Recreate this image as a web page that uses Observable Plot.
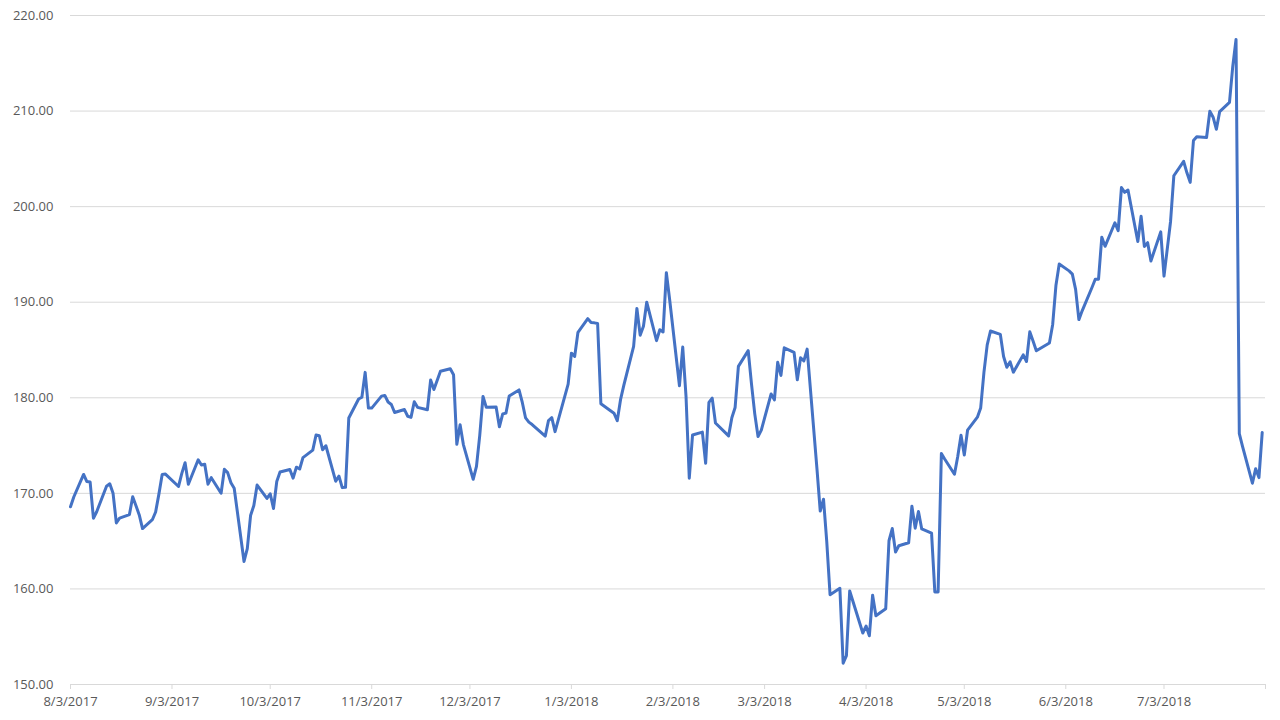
<!DOCTYPE html>
<html><head><meta charset="utf-8">
<script src="https://cdn.jsdelivr.net/npm/d3@7"></script>
<script src="https://cdn.jsdelivr.net/npm/@observablehq/plot@0.6"></script>
<style>body{margin:0;background:#fff;} svg{display:block}</style>
</head><body><div id="chart"></div>
<script>
const dates = [
"2017-08-03","2017-08-04","2017-08-07","2017-08-08","2017-08-09","2017-08-10","2017-08-11","2017-08-14","2017-08-15","2017-08-16","2017-08-17","2017-08-18","2017-08-21","2017-08-22","2017-08-23","2017-08-24","2017-08-25","2017-08-28","2017-08-29","2017-08-30","2017-08-31",
"2017-09-01","2017-09-05","2017-09-06","2017-09-07","2017-09-08","2017-09-11","2017-09-12","2017-09-13","2017-09-14","2017-09-15","2017-09-18","2017-09-19","2017-09-20","2017-09-21","2017-09-22","2017-09-25","2017-09-26","2017-09-27","2017-09-28","2017-09-29",
"2017-10-02","2017-10-03","2017-10-04","2017-10-05","2017-10-06","2017-10-09","2017-10-10","2017-10-11","2017-10-12","2017-10-13","2017-10-16","2017-10-17","2017-10-18","2017-10-19","2017-10-20","2017-10-23","2017-10-24","2017-10-25","2017-10-26","2017-10-27","2017-10-30","2017-10-31",
"2017-11-01","2017-11-02","2017-11-03","2017-11-06","2017-11-07","2017-11-08","2017-11-09","2017-11-10","2017-11-13","2017-11-14","2017-11-15","2017-11-16","2017-11-17","2017-11-20","2017-11-21","2017-11-22","2017-11-24","2017-11-27","2017-11-28","2017-11-29","2017-11-30",
"2017-12-01","2017-12-04","2017-12-05","2017-12-06","2017-12-07","2017-12-08","2017-12-11","2017-12-12","2017-12-13","2017-12-14","2017-12-15","2017-12-18","2017-12-19","2017-12-20","2017-12-21","2017-12-22","2017-12-26","2017-12-27","2017-12-28","2017-12-29",
"2018-01-02","2018-01-03","2018-01-04","2018-01-05","2018-01-08","2018-01-09","2018-01-10","2018-01-11","2018-01-12","2018-01-16","2018-01-17","2018-01-18","2018-01-19","2018-01-22","2018-01-23","2018-01-24","2018-01-25","2018-01-26","2018-01-29","2018-01-30","2018-01-31",
"2018-02-01","2018-02-02","2018-02-05","2018-02-06","2018-02-07","2018-02-08","2018-02-09","2018-02-12","2018-02-13","2018-02-14","2018-02-15","2018-02-16","2018-02-20","2018-02-21","2018-02-22","2018-02-23","2018-02-26","2018-02-27","2018-02-28",
"2018-03-01","2018-03-02","2018-03-05","2018-03-06","2018-03-07","2018-03-08","2018-03-09","2018-03-12","2018-03-13","2018-03-14","2018-03-15","2018-03-16","2018-03-19","2018-03-20","2018-03-21","2018-03-22","2018-03-23","2018-03-26","2018-03-27","2018-03-28","2018-03-29",
"2018-04-02","2018-04-03","2018-04-04","2018-04-05","2018-04-06","2018-04-09","2018-04-10","2018-04-11","2018-04-12","2018-04-13","2018-04-16","2018-04-17","2018-04-18","2018-04-19","2018-04-20","2018-04-23","2018-04-24","2018-04-25","2018-04-26","2018-04-27","2018-04-30",
"2018-05-01","2018-05-02","2018-05-03","2018-05-04","2018-05-07","2018-05-08","2018-05-09","2018-05-10","2018-05-11","2018-05-14","2018-05-15","2018-05-16","2018-05-17","2018-05-18","2018-05-21","2018-05-22","2018-05-23","2018-05-24","2018-05-25","2018-05-29","2018-05-30","2018-05-31",
"2018-06-01","2018-06-04","2018-06-05","2018-06-06","2018-06-07","2018-06-08","2018-06-11","2018-06-12","2018-06-13","2018-06-14","2018-06-15","2018-06-18","2018-06-19","2018-06-20","2018-06-21","2018-06-22","2018-06-25","2018-06-26","2018-06-27","2018-06-28","2018-06-29",
"2018-07-02","2018-07-03","2018-07-05","2018-07-06","2018-07-09","2018-07-10","2018-07-11","2018-07-12","2018-07-13","2018-07-16","2018-07-17","2018-07-18","2018-07-19","2018-07-20","2018-07-23","2018-07-24","2018-07-25","2018-07-26","2018-07-27","2018-07-30","2018-07-31",
"2018-08-01","2018-08-02"
];
const closes = [
168.59,169.62,171.98,171.23,171.18,167.40,168.08,170.75,171.00,170.00,166.91,167.41,167.78,169.64,168.71,167.74,166.32,167.24,168.05,169.92,171.97,
172.02,170.72,172.09,173.21,170.95,173.51,172.96,173.05,170.96,171.64,170.01,172.52,172.17,171.11,170.54,162.87,164.21,167.68,168.73,170.87,
169.47,169.96,168.42,171.24,172.23,172.50,171.59,172.74,172.55,173.74,174.52,176.11,176.03,174.56,174.98,171.27,171.80,170.60,170.63,177.88,179.87,180.06,
182.66,178.92,178.92,180.17,180.25,179.56,179.30,178.46,178.77,178.07,177.95,179.59,179.00,178.74,181.86,180.87,182.78,183.03,182.42,175.13,177.18,
175.10,171.47,172.83,176.06,180.14,179.00,179.04,176.96,178.30,178.39,180.18,180.82,179.51,177.89,177.45,177.20,175.99,177.62,177.92,176.46,
181.42,184.67,184.33,186.85,188.28,187.87,187.84,187.77,179.37,178.39,177.60,179.80,181.29,185.37,189.35,186.55,187.48,190.00,185.98,187.12,186.89,
193.09,190.28,181.26,185.31,180.18,171.58,176.11,176.41,173.15,179.52,179.96,177.36,176.01,177.91,178.99,183.29,184.93,181.46,178.32,
175.94,176.62,180.40,179.78,183.71,182.34,185.23,184.76,181.88,184.19,183.86,185.09,172.56,168.15,169.39,164.89,159.39,160.06,152.22,153.03,159.79,
155.39,156.11,155.10,159.34,157.20,157.93,165.04,166.32,163.87,164.52,164.83,168.66,166.36,168.10,166.28,165.84,159.69,159.69,174.16,173.59,172.00,
173.86,176.07,174.02,176.61,177.97,178.92,182.66,185.53,186.99,186.64,184.32,183.20,183.76,182.68,184.49,183.80,186.90,185.93,184.92,185.74,187.67,191.78,
193.99,193.28,192.94,191.34,188.18,189.10,191.54,192.40,192.41,196.81,195.85,198.31,197.49,202.00,201.50,201.74,196.35,199.00,195.84,196.23,194.32,
197.36,192.73,198.45,203.23,204.74,203.54,202.54,206.92,207.32,207.23,209.99,209.36,208.09,209.94,210.91,214.67,217.50,176.26,174.89,171.06,172.58,
171.65,176.37
];
const yTicks = [150,160,170,180,190,200,210,220];
const xTickDates = ["2017-08-03","2017-09-03","2017-10-03","2017-11-03","2017-12-03","2018-01-03","2018-02-03","2018-03-03","2018-04-03","2018-05-03","2018-06-03","2018-07-03","2018-08-03"];
const xTickLabels = ["8/3/2017","9/3/2017","10/3/2017","11/3/2017","12/3/2017","1/3/2018","2/3/2018","3/3/2018","4/3/2018","5/3/2018","6/3/2018","7/3/2018",""];

const data = dates.map((d, i) => ({date: new Date(d), close: closes[i]}));
const xt = xTickDates.map(d => new Date(d));
const labelMap = new Map(xt.map((d, i) => [+d, xTickLabels[i]]));

const chart = Plot.plot({
  width: 1280, height: 720,
  marginLeft: 70, marginRight: 15, marginTop: 15, marginBottom: 36,
  style: {fontFamily: "'Open Sans', sans-serif", fontSize: "13px", background: "#fff", overflow: "visible"},
  x: {type: "utc", domain: [xt[0], xt[xt.length - 1]]},
  y: {domain: [150, 220]},
  marks: [
    Plot.gridY(yTicks, {stroke: "#d9d9d9", strokeOpacity: 1}),
    Plot.ruleY([150], {stroke: "#d9d9d9"}),
    Plot.axisY(yTicks, {tickSize: 0, tickPadding: 17, tickFormat: d => d.toFixed(2), label: null, color: "#595959"}),
    Plot.axisX(xt, {tickSize: 5, tickPadding: 7, tickFormat: d => labelMap.get(+d), label: null, color: "#595959", stroke: "#d9d9d9"}),
    Plot.line(data, {x: "date", y: "close", stroke: "#4472C4", strokeWidth: 3, strokeLinejoin: "round"})
  ]
});
document.getElementById("chart").appendChild(chart);
</script>
</body></html>
